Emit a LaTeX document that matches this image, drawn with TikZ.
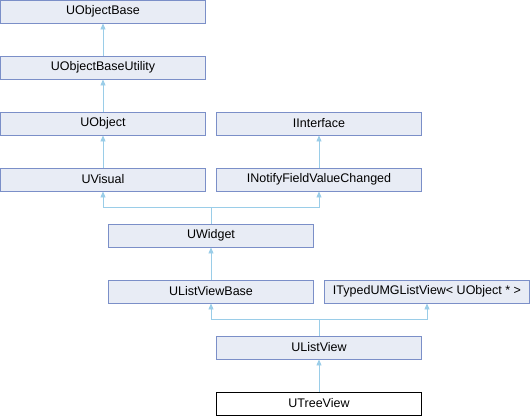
\documentclass[tikz,border=0pt]{standalone}
\usepackage{fontspec}
\setmainfont{Liberation Sans}
\usetikzlibrary{arrows.meta, positioning}
\definecolor{boxfill}{HTML}{E8ECF5}
\definecolor{boxline}{HTML}{7B8FC8}
\definecolor{linkline}{HTML}{9ACDE8}

\begin{document}
\begin{tikzpicture}[
    x=1pt, y=1pt,
    >={Triangle[width=5pt,length=6pt]},
    cls/.style={rectangle, draw=boxline, line width=0.9pt, fill=boxfill, inner sep=0pt, minimum width=205pt, minimum height=23pt, font=\fontsize{12.5}{14}\selectfont},
    thiscls/.style={cls, draw=black, fill=white},
    inherit/.style={<-, draw=linkline, line width=0.9pt}
]
\useasboundingbox (0,0) rectangle (530,-416);

% BASE CHAIN
\node[cls] (uobjectbase) at (103,-11.5) {UObjectBase};
\node[cls] (uobjectbaseutility) at (103,-67.5) {UObjectBaseUtility};
\node[cls] (uobject) at (103,-123.5) {UObject};
\node[cls] (iinterface) at (319,-123.5) {IInterface};
\node[cls] (uvisual) at (103,-179.5) {UVisual};
\node[cls] (inotify) at (319,-179.5) {INotifyFieldValueChanged};
\node[cls] (uwidget) at (211,-235.5) {UWidget};
\node[cls] (ulistviewbase) at (211,-291.5) {UListViewBase};
\node[cls] (ityped) at (427,-291.5) {ITypedUMGListView< UObject * >};
\node[cls] (ulistview) at (319,-347.5) {UListView};
\node[thiscls] (utreeview) at (319,-403.5) {UTreeView};

\draw[inherit] (uobjectbase) -- (uobjectbaseutility);
\draw[inherit] (uobjectbaseutility) -- (uobject);
\draw[inherit] (uobject) -- (uvisual);
\draw[inherit] (iinterface) -- (inotify);

% MULTIPLE PARENTS
\draw[inherit] (uvisual.south) |- ++(108,-16) -- (uwidget.north);
\draw[inherit] (inotify.south) |- ++(-108,-16) -- (uwidget.north);
\draw[inherit] (uwidget) -- (ulistviewbase);
\draw[inherit] (ulistviewbase.south) |- ++(108,-16) -- (ulistview.north);
\draw[inherit] (ityped.south) |- ++(-108,-16) -- (ulistview.north);
\draw[inherit] (ulistview) -- (utreeview);

\end{tikzpicture}
\end{document}
